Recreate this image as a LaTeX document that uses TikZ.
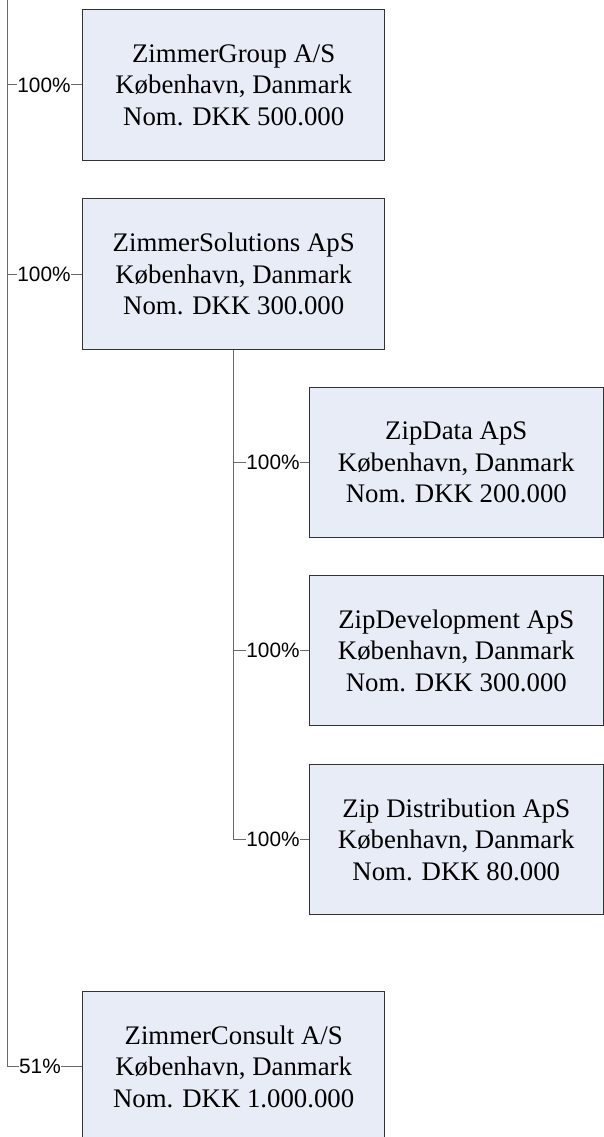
\documentclass[tikz,border=0pt]{standalone}
\usepackage{fontspec}
\setmainfont{Liberation Serif}
\setsansfont{Liberation Sans}
\definecolor{boxfill}{RGB}{231,236,247}
\definecolor{boxline}{RGB}{50,50,50}
\definecolor{conline}{RGB}{105,105,105}
\begin{document}
\begin{tikzpicture}[x=1pt,y=-1pt,
  company/.style={draw=boxline,line width=1pt,fill=boxfill,minimum width=301.5pt,minimum height=150.5pt,
    inner sep=0pt,align=center,font=\fontsize{26.8}{31.5}\selectfont},
  subcompany/.style={company,minimum width=294.5pt},
  pct/.style={inner sep=0pt,font=\sffamily\fontsize{20.8}{24}\selectfont},
  conn/.style={draw=conline,line width=1pt}]
\useasboundingbox (0,0) rectangle (604,1137);
\clip (0,0) rectangle (604,1137);
\node[company] (b1) at (233.7,85) {ZimmerGroup A/S\\København, Danmark\\Nom. DKK 500.000};
\node[company] (b2) at (233.7,274) {ZimmerSolutions ApS\\København, Danmark\\Nom. DKK 300.000};
\node[subcompany] (b3) at (456.3,462.5) {ZipData ApS\\København, Danmark\\Nom. DKK 200.000};
\node[subcompany] (b4) at (456.3,650.5) {ZipDevelopment ApS\\København, Danmark\\Nom. DKK 300.000};
\node[subcompany] (b5) at (456.3,839.5) {Zip Distribution ApS\\København, Danmark\\Nom. DKK 80.000};
\node[company] (b6) at (233.7,1066.5) {ZimmerConsult A/S\\København, Danmark\\Nom. DKK 1.000.000};
\coordinate (ttop) at (7.5,0);
\node[pct] (l1) at (44,85) {100\%};
\node[pct] (l2) at (44,274) {100\%};
\node[pct] (l6) at (40,1066.5) {51\%};
\node[pct] (l3) at (273,462.5) {100\%};
\node[pct] (l4) at (273,650.5) {100\%};
\node[pct] (l5) at (273,839.5) {100\%};
\draw[conn] (ttop) |- (l6.west);
\draw[conn] (l1.west) -- (l1.west -| ttop);
\draw[conn] (l2.west) -- (l2.west -| ttop);
\draw[conn] (l1.east) -- (b1.west);
\draw[conn] (l2.east) -- (b2.west);
\draw[conn] (l6.east) -- (b6.west);
\draw[conn] (b2.south) |- (l5.west);
\draw[conn] (l3.west) -- (l3.west -| b2.south);
\draw[conn] (l4.west) -- (l4.west -| b2.south);
\draw[conn] (l3.east) -- (b3.west);
\draw[conn] (l4.east) -- (b4.west);
\draw[conn] (l5.east) -- (b5.west);
\end{tikzpicture}
\end{document}
